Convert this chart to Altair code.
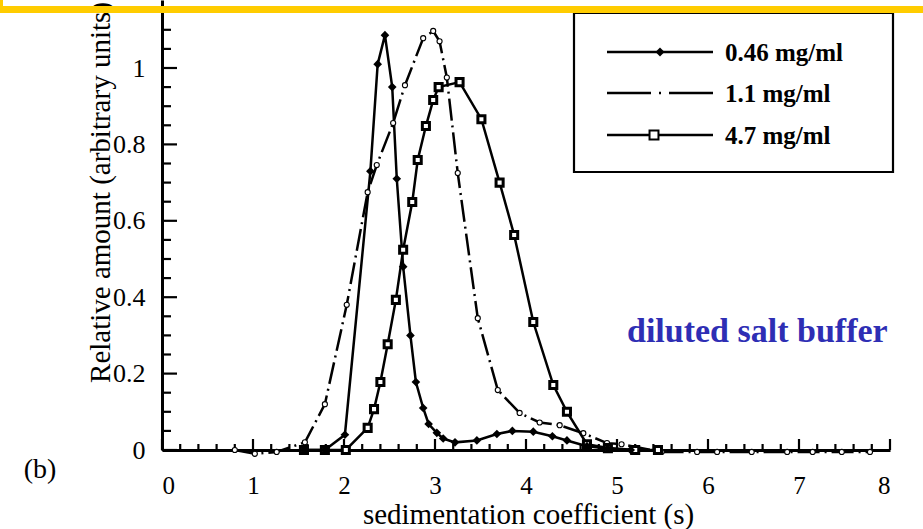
import altair as alt
import pandas as pd
import numpy as np

# ---------------- data ----------------
x_046 = [1.56, 1.79, 2.01, 2.29, 2.37, 2.45, 2.53, 2.58, 2.65, 2.73, 2.79, 2.87, 2.93,
         3.02, 3.09, 3.22, 3.46, 3.68, 3.85, 4.08, 4.29, 4.45, 4.67, 4.90, 5.15]
y_046 = [0.0, 0.0, 0.04, 0.73, 1.01, 1.086, 0.95, 0.71, 0.48, 0.30, 0.178, 0.11, 0.068,
         0.045, 0.03, 0.02, 0.025, 0.042, 0.05, 0.048, 0.036, 0.025, 0.01, 0.004, 0.0]

x_11 = [0.80, 1.02, 1.26, 1.57, 1.79, 2.03, 2.26, 2.36, 2.54, 2.67, 2.87, 2.98, 3.05,
        3.13, 3.25, 3.47, 3.69, 3.93, 4.15, 4.37, 4.63, 4.89, 5.05, 5.49, 5.88, 6.10,
        6.48, 6.87, 7.15, 7.47, 7.78]
y_11 = [0.0, -0.01, -0.005, 0.02, 0.12, 0.38, 0.675, 0.746, 0.856, 0.955, 1.078, 1.097, 1.07,
        0.975, 0.725, 0.345, 0.157, 0.097, 0.072, 0.065, 0.044, 0.018, 0.015, -0.005, -0.005,
        -0.005, -0.005, -0.005, -0.005, -0.005, -0.005]

x_47 = [1.56, 1.79, 2.02, 2.26, 2.33, 2.40, 2.48, 2.57, 2.65, 2.75, 2.81, 2.90, 2.98,
        3.04, 3.27, 3.51, 3.71, 3.87, 4.08, 4.30, 4.45, 4.67, 4.90, 5.20, 5.45]
y_47 = [0.0, 0.0, 0.0, 0.058, 0.107, 0.178, 0.277, 0.393, 0.524, 0.649, 0.759, 0.848, 0.916,
        0.95, 0.963, 0.866, 0.70, 0.563, 0.335, 0.17, 0.10, 0.015, 0.005, 0.0, 0.0]

series_labels = ["0.46 mg/ml", "1.1 mg/ml", "4.7 mg/ml"]
x_tick_labels = [0, 1, 2, 3, 4, 5, 6, 7, 8]
y_tick_labels = [0, 0.2, 0.4, 0.6, 0.8, 1.0]
annotation = ["diluted salt buffer"]
panel_label = ["(b)"]
x_title = "sedimentation coefficient (s)"
y_title = "Relative amount (arbitrary units)"

# ---------------- layout ----------------
W, H = 728, 450
YMAX = 450 / 382
FONT = "Liberation Serif"

xs = alt.Scale(domain=[0, 8], nice=False, zero=False)
ys = alt.Scale(domain=[0, YMAX], nice=False, zero=False)

df046 = pd.DataFrame({"s": x_046, "v": y_046})
df11 = pd.DataFrame({"s": x_11, "v": y_11})
df47 = pd.DataFrame({"s": x_47, "v": y_47})

x_axis = alt.Axis(values=x_tick_labels, format="d", ticks=False, grid=False,
                  domainColor="black", domainWidth=3,
                  labelFont=FONT, labelFontSize=25, labelColor="black", labelPadding=23,
                  title=x_title, titleFont=FONT, titleFontSize=29, titleFontWeight="normal",
                  titleColor="black", titleX=366, titleY=73, titleBaseline="alphabetic",
                  titleAlign="center")
y_axis = alt.Axis(values=y_tick_labels, format="~g", ticks=False, grid=False,
                  domainColor="black", domainWidth=3,
                  labelFont=FONT, labelFontSize=26, labelColor="black", labelPadding=17,
                  title=y_title, titleFont=FONT, titleFontSize=29, titleFontWeight="normal",
                  titleColor="black", titleX=-62, titleY=192, titleAngle=270,
                  titleAlign="center", titleBaseline="middle")


def X(field):
    return alt.X(field, scale=xs, axis=x_axis)


def Y(field):
    return alt.Y(field, scale=ys, axis=y_axis)


line046 = alt.Chart(df046).mark_line(color="black", strokeWidth=2.5).encode(
    x=X("s:Q"), y=Y("v:Q"))
pts046 = alt.Chart(df046).mark_point(shape="diamond", filled=True, color="black",
                                     size=75, opacity=1).encode(x=X("s:Q"), y=Y("v:Q"))

line11 = alt.Chart(df11).mark_line(color="black", strokeWidth=2.5,
                                   strokeDash=[22, 5, 2, 5]).encode(x=X("s:Q"), y=Y("v:Q"))
pts11 = alt.Chart(df11).mark_point(shape="circle", fill="white", fillOpacity=1,
                                   stroke="black", strokeWidth=1.1, size=26,
                                   opacity=1).encode(x=X("s:Q"), y=Y("v:Q"))

line47 = alt.Chart(df47).mark_line(color="black", strokeWidth=2.5).encode(
    x=X("s:Q"), y=Y("v:Q"))
pts47 = alt.Chart(df47).mark_point(shape="square", fill="white", fillOpacity=1,
                                   stroke="black", strokeWidth=3, size=50,
                                   opacity=1).encode(x=X("s:Q"), y=Y("v:Q"))

# inward ticks
xt_all = np.round(np.arange(0, 8.001, 0.2), 2)
xt_minor = pd.DataFrame({"s": [t for t in xt_all if abs(t - round(t)) > 1e-6]})
xt_major = pd.DataFrame({"s": x_tick_labels})
yt_all = np.round(np.arange(0, 1.151, 0.05), 2)
yt_minor = pd.DataFrame({"v": [t for t in yt_all if abs(t / 0.2 - round(t / 0.2)) > 1e-6]})
yt_major = pd.DataFrame({"v": [t for t in yt_all if abs(t / 0.2 - round(t / 0.2)) <= 1e-6]})

xtick_minor = alt.Chart(xt_minor).mark_rule(color="black", strokeWidth=2.2).encode(
    x=X("s:Q"), y=alt.value(H), y2=alt.value(H - 6))
xtick_major = alt.Chart(xt_major).mark_rule(color="black", strokeWidth=2.2).encode(
    x=X("s:Q"), y=alt.value(H), y2=alt.value(H - 11))
ytick_minor = alt.Chart(yt_minor).mark_rule(color="black", strokeWidth=2.2).encode(
    y=Y("v:Q"), x=alt.value(0), x2=alt.value(9))
ytick_major = alt.Chart(yt_major).mark_rule(color="black", strokeWidth=2.2).encode(
    y=Y("v:Q"), x=alt.value(0), x2=alt.value(15))

# legend (drawn by hand to match the boxed legend of the figure)
one = pd.DataFrame({"a": [0]})
leg_box = alt.Chart(one).mark_rect(fill="white", stroke="black", strokeWidth=2.2).encode(
    x=alt.value(412), x2=alt.value(731), y=alt.value(13), y2=alt.value(172))
leg_rows = [52, 93, 135]
legend_layers = [leg_box]
dashes = [None, [44, 8, 2, 8], None]
for i, lab in enumerate(series_labels):
    ry = leg_rows[i]
    rule_kw = dict(color="black", strokeWidth=2.5)
    if dashes[i]:
        rule_kw["strokeDash"] = dashes[i]
    legend_layers.append(alt.Chart(one).mark_rule(**rule_kw).encode(
        x=alt.value(445), x2=alt.value(551), y=alt.value(ry)))
    legend_layers.append(alt.Chart(pd.DataFrame({"label": [lab]})).mark_text(
        align="left", baseline="middle", font=FONT, fontSize=25, fontWeight="bold",
        color="black", dy=1).encode(x=alt.value(563), y=alt.value(ry), text="label:N"))
legend_layers.append(alt.Chart(one).mark_point(shape="diamond", filled=True, color="black",
                                               size=80, opacity=1).encode(
    x=alt.value(498), y=alt.value(leg_rows[0])))
legend_layers.append(alt.Chart(one).mark_point(shape="square", fill="white", fillOpacity=1,
                                               stroke="black", strokeWidth=2, size=80,
                                               opacity=1).encode(
    x=alt.value(492), y=alt.value(leg_rows[2])))

ann = alt.Chart(pd.DataFrame({"t": annotation})).mark_text(
    align="left", baseline="alphabetic", font=FONT, fontSize=34, fontWeight="bold",
    color="#2e2eb4").encode(x=alt.value(465), y=alt.value(342), text="t:N")
pan = alt.Chart(pd.DataFrame({"t": panel_label})).mark_text(
    align="center", baseline="middle", font=FONT, fontSize=28, color="black").encode(
    x=alt.value(-122), y=alt.value(470), text="t:N")

# yellow frame edge at the top of the slide
band = alt.Chart(one).mark_rule(color="#FFCC00", strokeWidth=7).encode(
    x=alt.value(-162), x2=alt.value(761), y=alt.value(9.5))
band_left = alt.Chart(one).mark_rule(color="#FFCC00", strokeWidth=3).encode(
    x=alt.value(-160.5), y=alt.value(0), y2=alt.value(9.5))

chart = alt.layer(
    line046, xtick_minor, xtick_major, ytick_minor, ytick_major,
    line11, pts11, line47, pts47, pts046,
    *legend_layers, ann, pan, band, band_left
).properties(
    width=W, height=H,
    autosize=alt.AutoSizeParams(type="none"),
    padding={"left": 162, "top": 0, "right": 33, "bottom": 79},
    background="white",
).configure_view(stroke=None)

chart.save("out.html", embed_options={"renderer": "svg", "actions": False})
